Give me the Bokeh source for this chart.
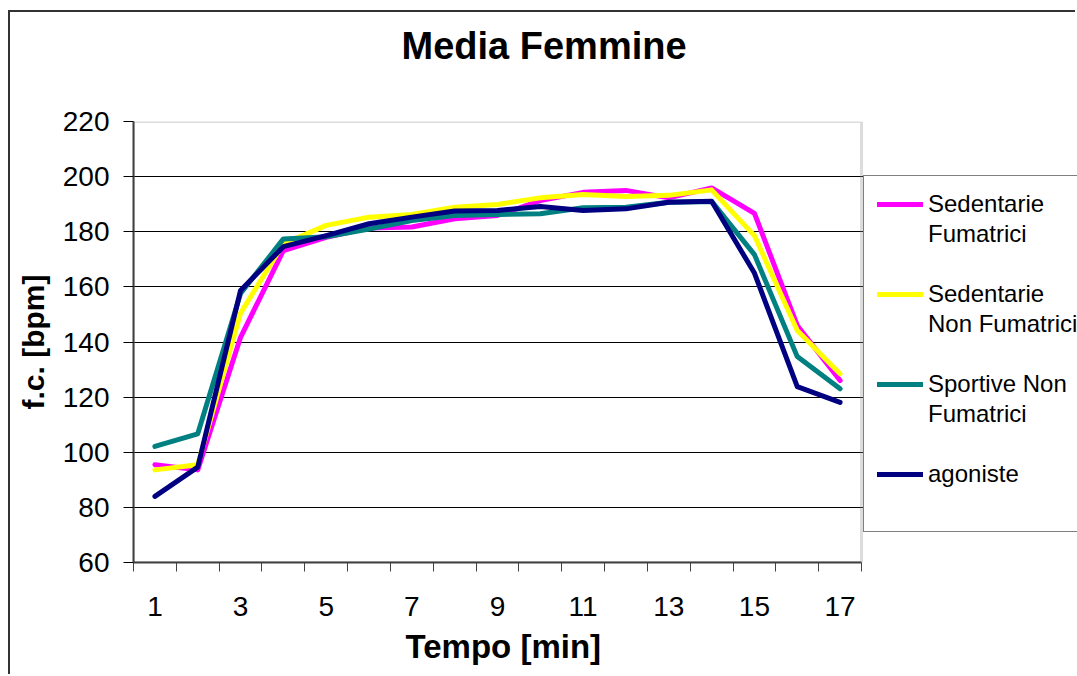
from bokeh.plotting import figure
from bokeh.models import FixedTicker, Legend, LegendItem, BoxAnnotation, Title
from bokeh.embed import file_html
from bokeh.resources import INLINE

# ---- data ----
minutes = list(range(1, 18))
sedentarie_fumatrici = [95.5, 93.6, 141.7, 173.2, 178.0, 181.4, 181.7, 184.7, 185.9, 191.3, 194.3, 195.0, 192.3, 195.9, 186.7, 146.0, 126.0]
sedentarie_non_fumatrici = [93.6, 95.5, 150.5, 175.6, 182.3, 185.3, 186.3, 188.9, 189.9, 192.3, 193.5, 192.8, 193.2, 195.2, 178.6, 144.2, 128.5]
sportive_non_fumatrici = [102.1, 106.7, 157.6, 177.4, 178.2, 181.0, 184.1, 185.9, 186.3, 186.5, 188.7, 188.9, 190.7, 191.0, 171.7, 134.7, 123.0]
agoniste = [84.0, 94.6, 158.7, 174.6, 178.6, 182.9, 185.3, 187.5, 187.7, 189.2, 187.7, 188.3, 190.7, 191.1, 165.0, 123.8, 118.1]

# legend labels, one list of text lines per series
series_label_lines = [["Sedentarie", "Fumatrici"], ["Sedentarie", "Non Fumatrici"], ["Sportive Non", "Fumatrici"], ["agoniste"]]
series_values = [sedentarie_fumatrici, sedentarie_non_fumatrici, sportive_non_fumatrici, agoniste]
series_colors = ["#FF00FF", "#FFFF00", "#008080", "#000080"]

x_tick_labels = [1, 3, 5, 7, 9, 11, 13, 15, 17]
y_ticks = [60, 80, 100, 120, 140, 160, 180, 200, 220]

chart_title = "Media Femmine"
x_title = "Tempo [min]"
y_title = "f.c. [bpm]"

FONT = "Liberation Sans"

# plot area spans minutes 0.5..17.5 on 728 px; the frame is widened to the right
# so that the legend (which sits right of the plot area) is not clipped.
PLOT_W = 728
RIGHT_W = 216
x_start = minutes[0] - 0.5
x_end = minutes[-1] + 0.5
x_frame_end = x_end + (x_end - x_start) * RIGHT_W / PLOT_W

p = figure(width=1067, height=664, output_backend="svg", toolbar_location=None,
           x_range=(x_start, x_frame_end), y_range=(y_ticks[0], y_ticks[-1]),
           min_border_left=123, min_border_right=0, min_border_top=109, min_border_bottom=114,
           title=chart_title)
# outer chart border
p.margin = (10, 0, 0, 8)
p.styles = {"border-left": "2px solid #333333", "border-top": "2px solid #333333"}
p.background_fill_color = "white"
p.border_fill_color = "white"
p.outline_line_color = None

p.title.text_font = FONT
p.title.text_font_size = "38px"
p.title.text_font_style = "bold"
p.title.text_color = "black"
p.title.align = "left"
p.title.offset = 268
p.title.vertical_align = "top"
p.title.standoff = 0

# blank spacer between the title and the plot area
p.add_layout(Title(text=" ", text_font_size="10px", standoff=40), "above")

# x axis title, placed under the tick labels and centred on the plot area
p.add_layout(Title(text=x_title, text_font=FONT, text_font_size="33px", text_font_style="bold",
                   text_color="black", align="left", offset=272, vertical_align="top",
                   standoff=18), "below")

# plot-area border (grey, like the frame of the original)
plot_box = BoxAnnotation(left=x_start, right=x_end, bottom=y_ticks[0], top=y_ticks[-1],
                         fill_alpha=0, line_color="#8c8c8c", line_width=3, level="underlay")
p.add_layout(plot_box)

lines = []
for vals, col in zip(series_values, series_colors):
    r = p.line(minutes, vals, line_color=col, line_width=5, line_join="round", line_cap="round")
    lines.append(r)

# invisible renderer for legend continuation lines / gaps
spacer = p.line([], [], line_alpha=0)

# axes
xa = p.xaxis[0]
xa.bounds = (x_start, x_end)
xa.ticker = FixedTicker(ticks=x_tick_labels, minor_ticks=[m - 0.5 for m in minutes] + [x_end])
xa.major_tick_line_color = None
xa.major_tick_out = 0
xa.minor_tick_in = 0
xa.minor_tick_out = 9
xa.minor_tick_line_color = "#404040"
xa.minor_tick_line_width = 1
xa.axis_line_color = "#404040"
xa.axis_line_width = 2
xa.major_label_text_font = FONT
xa.major_label_text_font_size = "28px"
xa.major_label_text_color = "black"
xa.major_label_standoff = 25

ya = p.yaxis[0]
ya.ticker = FixedTicker(ticks=y_ticks, minor_ticks=[])
ya.major_tick_in = 0
ya.major_tick_out = 10
ya.major_tick_line_color = "black"
ya.axis_line_color = "#404040"
ya.axis_line_width = 2
ya.major_label_text_font = FONT
ya.major_label_text_font_size = "28px"
ya.major_label_text_color = "black"
ya.major_label_standoff = 14
ya.axis_label = y_title
ya.axis_label_text_font = FONT
ya.axis_label_text_font_size = "30px"
ya.axis_label_text_font_style = "bold"
ya.axis_label_text_color = "black"
ya.axis_label_standoff = 10

p.xgrid.grid_line_color = None
p.ygrid.ticker = FixedTicker(ticks=y_ticks[1:-1])
p.ygrid.grid_line_color = "black"
p.ygrid.grid_line_width = 1

# legend: each text line is its own row so the colour swatch sits on the first line
items = []
for label_lines, r in zip(series_label_lines, lines):
    items.append(LegendItem(label=label_lines[0], renderers=[r]))
    for extra in label_lines[1:]:
        items.append(LegendItem(label=extra, renderers=[spacer]))
    if len(label_lines) > 1:
        items.append(LegendItem(label=" ", renderers=[spacer]))
items.append(LegendItem(label=" ", renderers=[spacer]))

legend = Legend(items=items, location=(730, 30))
legend.label_text_font = FONT
legend.label_text_font_size = "24px"
legend.label_text_color = "black"
legend.glyph_width = 46
legend.glyph_height = 20
legend.label_standoff = 5
legend.padding = 13
legend.spacing = 1
legend.label_height = 29
legend.label_width = 250
legend.border_line_color = "black"
legend.border_line_width = 1.5
legend.background_fill_color = "white"
legend.background_fill_alpha = 1
p.add_layout(legend, "center")

open("out.html", "w").write(file_html(p, INLINE))
